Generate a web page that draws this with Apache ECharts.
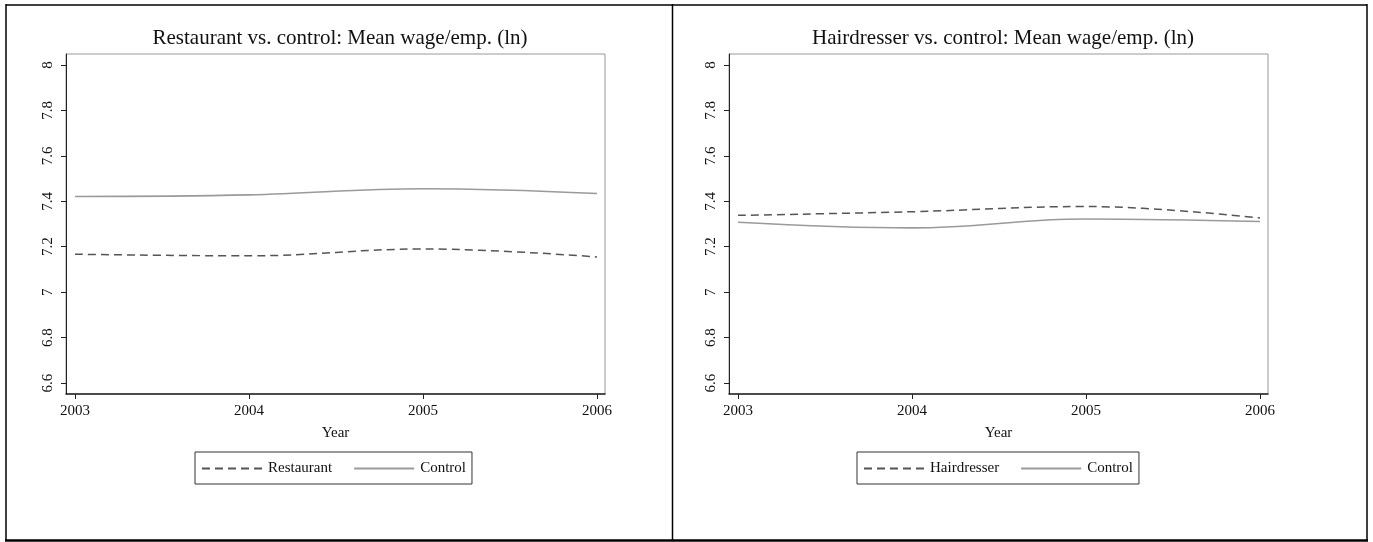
<!DOCTYPE html>
<html>
<head>
<meta charset="utf-8">
<script src="https://cdn.jsdelivr.net/npm/echarts@6/dist/echarts.min.js"></script>
<style>
  html, body { margin: 0; padding: 0; background: #fff; }
  #chart { width: 1373px; height: 542px; }
</style>
</head>
<body>
<div id="chart"></div>
<script>
// Years on the x axis
const years = [2003, 2004, 2005, 2006];
// Mean wage per employee (ln), by group
const restaurant = [7.167, 7.160, 7.190, 7.155];
const controlRest = [7.421, 7.428, 7.455, 7.434];
const hairdresser = [7.338, 7.354, 7.377, 7.326];
const controlHair = [7.308, 7.283, 7.322, 7.311];
// Tick labels
const yTicks = [6.6, 6.8, 7, 7.2, 7.4, 7.6, 7.8, 8];
const xTicks = [2003, 2004, 2005, 2006];
const panelTitles = [
  'Restaurant vs. control: Mean wage/emp. (ln)',
  'Hairdresser vs. control: Mean wage/emp. (ln)'
];

const serif = '"Liberation Serif", "DejaVu Serif", serif';
const panels = [
  { left: 66, centre: 335 },
  { left: 729, centre: 998 }
];
const plotW = 539, plotTop = 54, plotH = 340;

const pair = (xs, ys) => xs.map((x, i) => [x, ys[i]]);

const dashedStyle = { color: '#555', width: 1.5, type: [8, 5] };
const solidStyle = { color: '#9a9a9a', width: 1.6, type: 'solid' };

const option = {
  animation: false,
  backgroundColor: '#fff',
  title: panels.map((p, i) => ({
    text: panelTitles[i],
    left: p.centre, top: 23, textAlign: 'center',
    textStyle: { fontFamily: serif, fontSize: 21, fontWeight: 'normal', color: '#111' }
  })),
  grid: panels.map(p => ({
    left: p.left, top: plotTop, width: plotW, height: plotH,
    show: true, borderColor: '#999', borderWidth: 1, backgroundColor: '#fff'
  })),
  xAxis: panels.map((p, i) => ({
    type: 'value', gridIndex: i, min: 2002.948, max: 2006.046,
    name: 'Year', nameLocation: 'middle', nameGap: 32,
    nameTextStyle: { fontFamily: serif, fontSize: 15, color: '#111' },
    axisLine: { show: true, onZero: false, lineStyle: { color: '#222', width: 1.5 } },
    axisTick: { show: true, length: 5, customValues: xTicks, lineStyle: { color: '#222' } },
    axisLabel: { customValues: xTicks, margin: 10, fontFamily: serif, fontSize: 15, color: '#111',
                 formatter: v => String(v) },
    splitLine: { show: false }
  })),
  yAxis: panels.map((p, i) => ({
    type: 'value', gridIndex: i, min: 6.552, max: 8.048,
    axisLine: { show: true, onZero: false, lineStyle: { color: '#222', width: 1 } },
    axisTick: { show: true, length: 5, customValues: yTicks, lineStyle: { color: '#222' } },
    axisLabel: { customValues: yTicks, rotate: 90, margin: 10, fontFamily: serif, fontSize: 15,
                 color: '#111', formatter: v => String(+v.toFixed(1)) },
    splitLine: { show: false }
  })),
  legend: [
    { data: ['Restaurant', 'Control'], left: 195, top: 452 },
    { data: ['Hairdresser', 'Control'], left: 857, top: 452 }
  ].map(l => Object.assign(l, {
    orient: 'horizontal', itemWidth: 60, itemHeight: 12, itemGap: 21,
    padding: [9, 6, 8, 6], borderColor: '#333', borderWidth: 1,
    itemStyle: { opacity: 0 },
    textStyle: { fontFamily: serif, fontSize: 15, color: '#111', padding: [0, 0, 0, 1] },
    selectedMode: false
  })),
  series: [
    { name: 'Restaurant', data: pair(years, restaurant), lineStyle: dashedStyle, xAxisIndex: 0, yAxisIndex: 0 },
    { name: 'Control', data: pair(years, controlRest), lineStyle: solidStyle, xAxisIndex: 0, yAxisIndex: 0 },
    { name: 'Hairdresser', data: pair(years, hairdresser), lineStyle: dashedStyle, xAxisIndex: 1, yAxisIndex: 1 },
    { name: 'Control', data: pair(years, controlHair), lineStyle: solidStyle, xAxisIndex: 1, yAxisIndex: 1 }
  ].map(s => Object.assign(s, {
    type: 'line', smooth: 0.4, symbol: 'none', showSymbol: false,
    itemStyle: { color: s.lineStyle.color }
  })),
  // Table frame around the two panels
  graphic: [
    { type: 'line', shape: { x1: 6, y1: 5, x2: 1367, y2: 5 }, style: { stroke: '#000', lineWidth: 1.5 } },
    { type: 'line', shape: { x1: 6, y1: 4, x2: 6, y2: 541 }, style: { stroke: '#000', lineWidth: 1.5 } },
    { type: 'line', shape: { x1: 672.5, y1: 4, x2: 672.5, y2: 541 }, style: { stroke: '#000', lineWidth: 1.5 } },
    { type: 'line', shape: { x1: 1367, y1: 4, x2: 1367, y2: 541 }, style: { stroke: '#000', lineWidth: 1.5 } },
    { type: 'line', shape: { x1: 5, y1: 540.5, x2: 1368, y2: 540.5 }, style: { stroke: '#000', lineWidth: 2.5 } }
  ]
};

const chart = echarts.init(document.getElementById('chart'), null, { renderer: 'canvas' });
chart.setOption(option);
</script>
</body>
</html>
